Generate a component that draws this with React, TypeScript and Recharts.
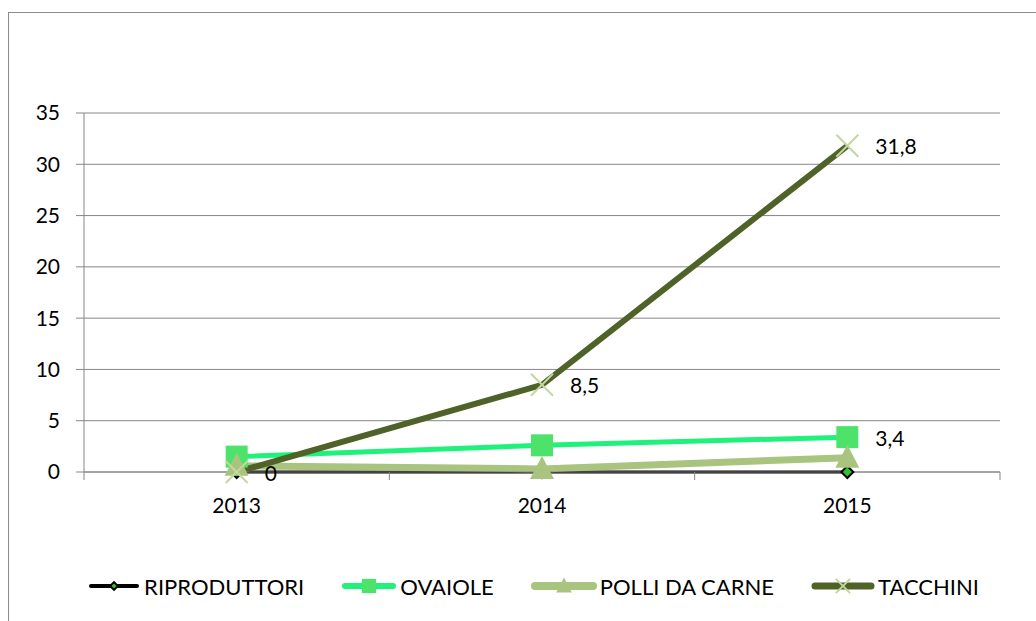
import { LineChart, Line, XAxis, YAxis, CartesianGrid, Legend } from "recharts"

const years = ["2013", "2014", "2015"]
const riproduttori = [0, 0, 0]
const ovaiole = [1.5, 2.6, 3.4]
const polliDaCarne = [0.6, 0.3, 1.4]
const tacchini = [0, 8.5, 31.8]
const yTicks = [0, 5, 10, 15, 20, 25, 30, 35]
const xTicks = [0, 0.5, 1, 1.5, 2, 2.5, 3]
const ovaioleLabelIdx = [2]

const data = years.map((year, i) => ({
  pos: i + 0.5,
  year,
  riproduttori: riproduttori[i],
  ovaiole: ovaiole[i],
  polli: polliDaCarne[i],
  tacchini: tacchini[i],
}))

const FONT = "Lato, 'Open Sans', sans-serif"
const FS = 21
const GRID = "#868686"
const fmt = (v: number) => String(v).replace(".", ",")

function Diamond({ cx, cy, k = 1 }: any) {
  const r = 6 * k
  return <polygon points={`${cx},${cy - r} ${cx + r},${cy} ${cx},${cy + r} ${cx - r},${cy}`} fill="#2fc42f" stroke="#000" strokeWidth={2} />
}
function Square({ cx, cy, k = 1 }: any) {
  const r = 11 * k
  return <rect x={cx - r} y={cy - r} width={2 * r} height={2 * r} fill="#4de36b" />
}
function Triangle({ cx, cy, k = 1 }: any) {
  return <polygon points={`${cx},${cy - 13 * k} ${cx + 12 * k},${cy + 10 * k} ${cx - 12 * k},${cy + 10 * k}`} fill="#a9c47f" />
}
function Cross({ cx, cy, k = 1 }: any) {
  const r = 11 * k
  return (
    <g stroke="#c4d79f" strokeWidth={2}>
      <line x1={cx - r} y1={cy - r} x2={cx + r} y2={cy + r} />
      <line x1={cx - r} y1={cy + r} x2={cx + r} y2={cy - r} />
    </g>
  )
}

const series = [
  { key: "riproduttori", name: "RIPRODUTTORI", color: "#000000", width: 3, Marker: Diamond, icon: 56 },
  { key: "ovaiole", name: "OVAIOLE", color: "#1ef27a", width: 5, Marker: Square, icon: 58 },
  { key: "polli", name: "POLLI DA CARNE", color: "#a9c47f", width: 7, Marker: Triangle, icon: 68 },
  { key: "tacchini", name: "TACCHINI", color: "#4f6228", width: 6, Marker: Cross, icon: 66 },
]

function XTick({ x, y, payload }: any) {
  const v = payload.value
  if (Number.isInteger(v)) return <line x1={x} y1={y} x2={x} y2={y + 8} stroke={GRID} />
  return (
    <text x={x} y={y + 41} textAnchor="middle" fill="#000" fontSize={FS} fontFamily={FONT}>
      {years[Math.floor(v)]}
    </text>
  )
}

function DataLabel({ x, y, value, index, only }: any) {
  if (only && !only.includes(index)) return null
  return (
    <text x={x + 28} y={y} dominantBaseline="central" fill="#000" fontSize={FS} fontFamily={FONT}>
      {fmt(value)}
    </text>
  )
}

function LegendContent() {
  return (
    <div style={{ display: "flex", justifyContent: "center", alignItems: "center", height: 30, gap: 36, paddingLeft: 56, fontFamily: FONT, fontSize: 22 }}>
      {series.map(s => (
        <div key={s.key} style={{ display: "flex", alignItems: "center" }}>
          <svg width={s.icon} height={28}>
            <line x1={5} y1={14} x2={s.icon - 5} y2={14} stroke={s.color} strokeWidth={s.width + 1} strokeLinecap="round" />
            <s.Marker cx={s.icon / 2} cy={14} k={0.65} />
          </svg>
          <span style={{ marginLeft: 2 }}>{s.name}</span>
        </div>
      ))}
    </div>
  )
}

export default function App() {
  return (
    <div style={{ padding: "12px 0 0 8px" }}>
      <style>{"body{margin:0;overflow:hidden}"}</style>
      <div style={{ width: 1028, height: 609, borderLeft: "1px solid #8c8c8c", borderTop: "1px solid #8c8c8c", boxSizing: "border-box", fontFamily: FONT }}>
        <LineChart width={1027} height={608} data={data} margin={{ top: 100, right: 36, left: 0, bottom: 20 }}>
          <CartesianGrid vertical={false} stroke={GRID} />
          <XAxis
            dataKey="pos"
            type="number"
            domain={[0, 3]}
            ticks={xTicks}
            interval={0}
            height={99}
            tickSize={0}
            tickMargin={0}
            tickLine={false}
            axisLine={{ stroke: GRID }}
            tick={<XTick />}
          />
          <YAxis
            domain={[0, 35]}
            ticks={yTicks}
            width={75}
            tickSize={8}
            tickMargin={16}
            axisLine={{ stroke: GRID }}
            tickLine={{ stroke: GRID }}
            tick={{ fill: "#000", fontSize: FS, fontFamily: FONT }}
          />
          <Legend verticalAlign="bottom" content={<LegendContent />} />
          {series.map(s => (
            <Line
              key={s.key}
              dataKey={s.key}
              name={s.name}
              type="linear"
              stroke={s.color}
              strokeWidth={s.width}
              isAnimationActive={false}
              activeDot={false}
              dot={(p: any) => <s.Marker key={`${s.key}-${p.index}`} cx={p.cx} cy={p.cy} />}
              label={
                s.key === "tacchini"
                  ? (p: any) => <DataLabel key={`l-${p.index}`} {...p} />
                  : s.key === "ovaiole"
                  ? (p: any) => <DataLabel key={`l-${p.index}`} {...p} only={ovaioleLabelIdx} />
                  : false
              }
            />
          ))}
        </LineChart>
      </div>
    </div>
  )
}
